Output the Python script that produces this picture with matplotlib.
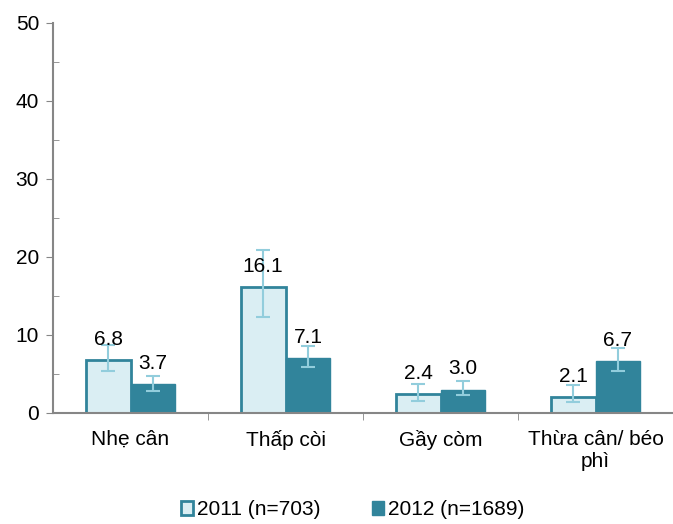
import matplotlib.pyplot as plt
import numpy as np

plt.rcParams['font.family'] = ['Liberation Sans', 'DejaVu Sans']

# Data
categories = ['Nhẹ cân', 'Thấp còi', 'Gầy còm', 'Thừa cân/ béo\nphì']
v2011 = [6.8, 16.1, 2.4, 2.1]
v2012 = [3.7, 7.1, 3.0, 6.7]
lo2011 = [5.4, 12.3, 1.6, 1.4]
hi2011 = [8.7, 20.9, 3.7, 3.6]
lo2012 = [2.8, 5.9, 2.3, 5.4]
hi2012 = [4.8, 8.6, 4.1, 8.3]
series_names = ['2011 (n=703)', '2012 (n=1689)']

dark = '#31849B'
light = '#DAEEF3'
err_col = '#92CDDC'
gray = '#868686'

fig = plt.figure(figsize=(6.73, 5.24), dpi=100)
ax = fig.add_axes([53 / 673, 111 / 524, 620 / 673, 390 / 524])

x = np.arange(len(categories))
w = 0.29

err1 = [np.array(v2011) - np.array(lo2011), np.array(hi2011) - np.array(v2011)]
err2 = [np.array(v2012) - np.array(lo2012), np.array(hi2012) - np.array(v2012)]

b1 = ax.bar(x - w / 2, v2011, w, color=light, edgecolor=dark, linewidth=2,
            label=series_names[0], zorder=2)
b2 = ax.bar(x + w / 2, v2012, w, color=dark, edgecolor=dark, linewidth=1,
            label=series_names[1], zorder=2)
ax.errorbar(x - w / 2, v2011, yerr=err1, fmt='none', ecolor=err_col,
            elinewidth=1.5, capsize=5, capthick=1.5, zorder=3)
ax.errorbar(x + w / 2, v2012, yerr=err2, fmt='none', ecolor=err_col,
            elinewidth=1.5, capsize=5, capthick=1.5, zorder=3)

for xi, v in zip(x - w / 2, v2011):
    ax.annotate(f'{v:.1f}', (xi, v), xytext=(0, 8), textcoords='offset points',
                ha='center', va='bottom', fontsize=15)
for xi, v in zip(x + w / 2, v2012):
    ax.annotate(f'{v:.1f}', (xi, v), xytext=(0, 8), textcoords='offset points',
                ha='center', va='bottom', fontsize=15)

ax.set_xlim(-0.5, 3.5)
ax.set_ylim(0, 50)
ax.set_yticks([0, 10, 20, 30, 40, 50])
ax.set_yticks([5, 15, 25, 35, 45], minor=True)
ax.set_xticks(x)
ax.set_xticklabels(categories, fontsize=15, va='top')
ax.set_xticks([0.5, 1.5, 2.5], minor=True)
ax.tick_params(axis='y', which='major', direction='out', length=5, color=gray,
               labelsize=15, pad=5)
ax.tick_params(axis='y', which='minor', direction='in', length=4, color=gray)
ax.tick_params(axis='x', which='major', length=0, pad=12)
ax.tick_params(axis='x', which='minor', direction='out', length=5, color=gray)

for s in ['top', 'right']:
    ax.spines[s].set_visible(False)
for s in ['left', 'bottom']:
    ax.spines[s].set_color(gray)
    ax.spines[s].set_linewidth(1.5)

fig.legend(handles=[b1, b2], loc='lower center', bbox_to_anchor=(0.524, -0.027),
           ncol=2, frameon=False, fontsize=15, handlelength=0.6,
           handleheight=0.6, handletextpad=0.2, columnspacing=2.45)

fig.savefig('out.png', dpi=100)
